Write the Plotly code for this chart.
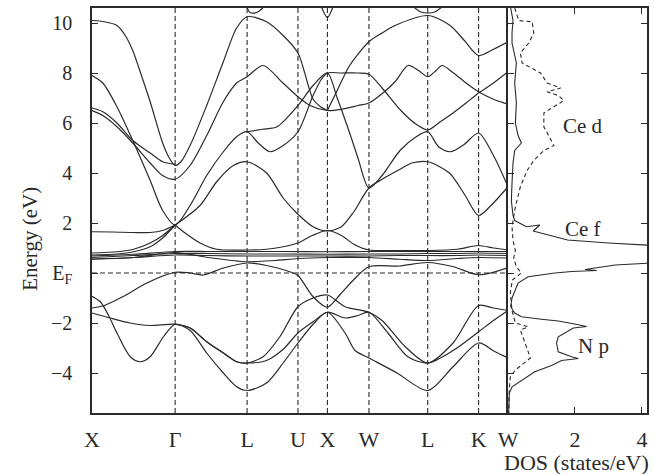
import plotly.graph_objects as go

# ---- Brillouin-zone path (units of 2*pi/a) ----
k_sym = [0.0, 1.0, 1.866, 2.478, 2.832, 3.332, 4.039, 4.651, 5.005]
k_names = ["X", "Γ", "L", "U", "X", "W", "L", "K", "W"]

# ---- energy bands (k, eV) ----
b1_k = [0, 0.15, 0.30, 0.40, 0.49, 0.60, 0.70, 0.85, 0.93, 1.0, 1.07, 1.18, 1.38, 1.58, 1.74, 1.866,
        2.1, 2.3, 2.478, 2.66, 2.75, 2.832]
b1_e = [10.1, 10.05, 9.9, 9.5, 8.9, 7.85, 6.85, 5.2, 4.6, 4.3, 4.45, 5.1, 6.7, 8.45, 9.8, 10.25,
        10.05, 9.5, 8.8, 6.95, 6.65, 6.5]

b13_k = [2.832, 2.95, 3.1, 3.332, 3.49, 3.646, 4.039, 4.308, 4.48, 4.651, 4.83, 5.005]
b13_e = [6.5, 7.3, 8.3, 9.25, 9.6, 9.9, 10.3, 9.9, 9.3, 8.7, 8.95, 9.25]

b2_k = [0, 0.13, 0.30, 0.49, 0.70, 0.85, 1.0, 1.18, 1.38, 1.58, 1.74, 1.866, 2.0, 2.14, 2.3, 2.478,
        2.66, 2.76, 2.832, 3.0, 3.2, 3.332, 3.49, 3.73, 3.9, 4.039, 4.19, 4.344, 4.5, 4.651, 4.83, 5.005]
b2_e = [7.9, 7.6, 6.65, 5.3, 3.7, 2.5, 1.92, 2.7, 3.9, 4.85, 5.45, 5.65, 5.2, 4.85, 5.1, 5.65,
        7.1, 7.75, 8.0, 8.0, 8.0, 7.95, 7.4, 6.45, 5.95, 5.72, 6.05, 6.4, 6.8, 7.2, 7.6, 8.05]

b3_k = [0, 0.13, 0.30, 0.49, 0.70, 0.85, 1.0]
b3_e = [6.6, 6.45, 6.0, 5.3, 4.8, 4.45, 4.35]

b4_k = [0, 0.13, 0.30, 0.49, 0.70, 0.85, 1.0, 1.18, 1.38, 1.58, 1.74, 1.866, 2.058, 2.298, 2.478,
        2.623, 2.832, 3.0, 3.2, 3.332, 3.5, 3.646, 3.803, 3.93, 4.039, 4.14, 4.212, 4.35, 4.5,
        4.651, 4.83, 5.005]
b4_e = [6.5, 6.3, 5.85, 5.2, 4.4, 3.9, 3.75, 4.3, 5.5, 6.85, 7.6, 7.85, 8.3, 7.6, 7.05,
        6.7, 6.5, 6.55, 6.7, 6.8, 7.2, 7.65, 8.3, 8.1, 7.85, 8.1, 8.3, 8.0, 7.6,
        7.25, 6.95, 6.75]

b7_k = [1.866, 2.05, 2.226, 2.478, 2.66, 2.832, 2.95, 3.1, 3.2, 3.332, 3.49, 3.706, 3.9, 4.039,
        4.17, 4.31, 4.48, 4.651, 4.83, 5.005]
b7_e = [5.65, 5.75, 5.85, 6.7, 7.5, 8.0, 7.0, 5.6, 4.6, 3.4, 3.9, 4.9, 5.45, 5.65,
        5.05, 4.85, 5.15, 5.6, 4.7, 3.45]

b8_k = [1.0, 1.3, 1.50, 1.70, 1.866, 2.1, 2.3, 2.478, 2.66, 2.832, 3.0, 3.15, 3.332, 3.49, 3.706,
        3.85, 4.039, 4.30, 4.49, 4.651, 4.80, 5.005]
b8_e = [1.92, 2.7, 3.65, 4.3, 4.45, 4.0, 3.0, 2.35, 1.85, 1.68, 1.85, 2.45, 3.4, 3.75, 4.15,
        4.4, 4.45, 4.0, 3.1, 2.3, 2.7, 3.45]

arc1_k = [1.866, 1.90, 1.98, 2.06]
arc1_e = [10.62, 10.42, 10.42, 10.62]
arc2_k = [2.76, 2.832, 2.90]
arc2_e = [10.65, 10.22, 10.65]
arc3_k = [3.85, 3.95, 4.039, 4.13, 4.23]
arc3_e = [10.7, 10.45, 10.4, 10.45, 10.7]

# Ce 4f manifold and hybridised bands
fa_k = [0, 0.25, 0.5, 0.7, 0.85, 1.0]
fa_e = [1.65, 1.64, 1.62, 1.62, 1.7, 1.92]
fb_k = [0, 0.3, 0.5, 0.7, 0.85, 1.0]
fb_e = [0.8, 0.85, 0.95, 1.2, 1.5, 1.92]
fc_k = [0, 0.3, 0.5, 0.7, 0.85, 1.0]
fc_e = [0.72, 0.76, 0.85, 1.05, 1.4, 1.92]
fd_k = [1.0, 1.12, 1.3, 1.5, 1.866, 2.1, 2.3, 2.478, 2.65, 2.832, 3.0, 3.15, 3.332, 3.7, 4.039,
        4.4, 4.651, 4.83, 5.005]
fd_e = [1.92, 1.6, 1.2, 0.95, 0.92, 0.95, 1.05, 1.2, 1.5, 1.7, 1.5, 1.15, 0.92, 0.9, 0.9,
        0.95, 1.1, 1.0, 0.92]
f_k = [0, 0.5, 1.0, 1.4, 1.866, 2.3, 2.832, 3.332, 3.7, 4.039, 4.4, 4.651, 5.005]
f1_e = [0.68, 0.75, 0.86, 0.86, 0.86, 0.86, 0.85, 0.86, 0.86, 0.86, 0.86, 0.86, 0.86]
f2_e = [0.62, 0.7, 0.78, 0.78, 0.76, 0.76, 0.75, 0.76, 0.76, 0.78, 0.78, 0.8, 0.78]
f3_e = [0.56, 0.62, 0.72, 0.7, 0.68, 0.68, 0.68, 0.68, 0.7, 0.7, 0.7, 0.72, 0.7]
f4_k = [0, 0.5, 1.0, 1.4, 1.866, 2.2, 2.478, 2.832, 3.332, 3.7, 4.039, 4.4, 4.651, 5.005]
f4_e = [0.55, 0.62, 0.82, 0.62, 0.45, 0.5, 0.58, 0.62, 0.62, 0.55, 0.5, 0.58, 0.62, 0.6]

d1_k = [0, 0.15, 0.37, 0.66, 1.0, 1.18, 1.34, 1.58, 1.866, 2.10, 2.38, 2.478, 2.66, 2.832, 2.98,
        3.14, 3.332, 3.70, 4.039, 4.35, 4.651, 5.005]
d1_e = [-1.4, -1.3, -0.95, -0.4, 0.03, 0.0, -0.08, 0.2, 0.4, 0.3, 0.05, -0.1, -0.95, -1.37, -0.88,
        -0.3, 0.25, 0.28, 0.42, 0.25, -0.07, 0.22]

# N 2p bands
p1_k = [0, 0.1, 0.2, 0.3, 0.46, 0.58, 0.70, 0.86, 1.0, 1.18, 1.38, 1.58, 1.74, 1.866, 2.1, 2.3,
        2.478, 2.66, 2.832, 3.045, 3.165, 3.332, 3.67, 4.039, 4.344, 4.651, 4.85, 5.005]
p1_e = [-0.93, -1.15, -1.7, -2.4, -3.35, -3.55, -3.35, -2.55, -2.05, -2.3, -3.2, -4.0, -4.55, -4.7,
        -4.4, -3.6, -2.8, -2.05, -1.57, -2.4, -3.1, -3.4, -4.0, -4.7, -3.75, -2.8, -3.15, -3.4]
p2_k = [0, 0.217, 0.457, 0.698, 1.0, 1.18, 1.38, 1.58, 1.74, 1.866, 2.058, 2.26, 2.478, 2.66,
        2.832, 3.045, 3.332, 3.49, 3.77, 4.039, 4.344, 4.651, 4.83, 5.005]
p2_e = [-1.6, -1.8, -2.0, -2.1, -2.05, -2.2, -2.75, -3.2, -3.55, -3.6, -3.35, -2.55, -1.35, -1.0,
        -0.88, -1.35, -1.57, -1.9, -2.95, -3.6, -2.8, -1.3, -1.4, -1.5]
p3_k = [1.0, 1.18, 1.38, 1.58, 1.74, 1.866, 2.1, 2.3, 2.478, 2.66, 2.832, 3.045, 3.2, 3.332,
        3.56, 3.80, 4.039, 4.344, 4.651, 4.83, 5.005]
p3_e = [-2.05, -2.2, -2.75, -3.2, -3.55, -3.6, -3.5, -3.05, -2.4, -1.95, -1.57, -1.8, -1.7, -1.57,
        -2.4, -3.35, -3.6, -3.1, -2.35, -1.9, -1.5]

bands = [(b1_k, b1_e), (b13_k, b13_e), (b2_k, b2_e), (b3_k, b3_e), (b4_k, b4_e), (b7_k, b7_e),
         (b8_k, b8_e), (arc1_k, arc1_e), (arc2_k, arc2_e), (arc3_k, arc3_e),
         (fa_k, fa_e), (fb_k, fb_e), (fc_k, fc_e), (fd_k, fd_e), (f_k, f1_e), (f_k, f2_e),
         (f_k, f3_e), (f4_k, f4_e), (d1_k, d1_e), (p1_k, p1_e), (p2_k, p2_e), (p3_k, p3_e)]

# ---- partial densities of states (states/eV) ----
dos_f_e = [10.6, 10.1, 9.6, 9.2, 8.4, 7.6, 6.8, 6.0, 5.5, 5.2, 4.9, 4.4, 3.6, 2.9, 2.3, 2.1, 1.85,
           1.92, 1.68, 1.52, 1.32, 1.2, 1.12, 1.05, 0.7, 0.4, 0.32, 0.22, 0.14, 0.1, 0.06, 0.0,
           -0.07, -0.15, -0.4, -0.7, -1.0]
dos_f_v = [0.08, 0.15, 0.12, 0.12, 0.25, 0.2, 0.25, 0.22, 0.3, 0.4, 0.2, 0.15, 0.12, 0.1, 0.15, 0.2,
           0.55, 0.95, 0.75, 1.18, 1.78, 3.0, 4.2, 5.0, 6.0, 4.3, 3.2, 2.6, 2.3, 2.65, 1.9, 1.4,
           1.05, 0.6, 0.3, 0.2, 0.12]
dos_p_e = [-1.0, -1.35, -1.6, -1.75, -1.85, -1.92, -2.03, -2.14, -2.2, -2.55, -2.8, -3.15, -3.35,
           -3.42, -3.5, -3.7, -3.95, -4.3, -4.55, -4.8, -5.6]
dos_p_v = [0.12, 0.08, 0.2, 0.4, 1.0, 1.5, 1.95, 2.35, 1.95, 1.5, 1.45, 1.5, 1.9, 2.1, 1.6, 1.3,
           0.8, 0.4, 0.12, 0.04, 0.02]
dos_d_e = [10.6, 10.5, 10.1, 10.05, 9.6, 9.2, 8.8, 8.4, 8.0, 7.6, 7.4, 7.25, 7.1, 6.9, 6.65, 6.4,
           5.85, 5.1, 4.9, 4.5, 4.1, 3.45, 2.65, 1.85, 1.3, 0.9, 0.6, 0.25, 0.0, -0.28, -0.8,
           -1.5, -2.0, -2.15, -2.28, -2.8, -3.4, -3.88, -4.15, -4.6, -5.6]
dos_d_v = [0.2, 0.22, 0.32, 0.72, 0.77, 0.62, 0.37, 0.42, 0.97, 1.17, 1.57, 1.17, 1.5, 1.67, 1.37,
           1.07, 1.07, 1.37, 1.07, 0.77, 0.57, 0.37, 0.22, 0.12, 0.15, 0.22, 0.17, 0.25, 0.4,
           0.13, 0.07, 0.12, 0.22, 0.6, 0.37, 0.5, 0.67, 0.22, 0.07, 0.04, 0.02]

dos_labels = [("Ce d", 2.23, 5.9), ("Ce f", 2.23, 1.75), ("N p", 2.55, -2.9)]

y_ticks = [-4, -2, 0, 2, 4, 6, 8, 10]
y_ticktext = ["−4", "−2", "E<sub>F</sub>", "2", "4", "6", "8", "10"]
dos_ticks = [2, 4]

INK = "#2a2a2a"
FONT = "Liberation Serif"
split = 416 / 555

fig = go.Figure()
for kk, ee in bands:
    fig.add_trace(go.Scatter(x=kk, y=ee, mode="lines", xaxis="x", yaxis="y",
                             line=dict(color=INK, width=1.2, shape="spline", smoothing=0.8),
                             hoverinfo="skip"))

fig.add_trace(go.Scatter(x=dos_f_v, y=dos_f_e, mode="lines", xaxis="x2", yaxis="y2",
                         line=dict(color=INK, width=1.1), name="Ce f"))
fig.add_trace(go.Scatter(x=dos_p_v, y=dos_p_e, mode="lines", xaxis="x2", yaxis="y2",
                         line=dict(color=INK, width=1.1), name="N p"))
fig.add_trace(go.Scatter(x=dos_d_v, y=dos_d_e, mode="lines", xaxis="x2", yaxis="y2",
                         line=dict(color=INK, width=1.1, dash="4px,3px"), name="Ce d"))

shapes = []
for kv in k_sym[1:-1]:
    shapes.append(dict(type="line", xref="x", yref="paper", x0=kv, x1=kv, y0=0, y1=1,
                       line=dict(color=INK, width=1.1, dash="5px,3px")))
shapes.append(dict(type="line", xref="x", yref="y", x0=k_sym[0], x1=k_sym[-1], y0=0, y1=0,
                   line=dict(color=INK, width=1.1, dash="5px,3px")))

annotations = [dict(text=t, x=xv, y=yv, xref="x2", yref="y2", showarrow=False,
                    font=dict(family=FONT, size=21, color=INK)) for t, xv, yv in dos_labels]
annotations.append(dict(text="Energy (eV)", x=-0.137, y=0.43, xref="paper", yref="paper",
                        textangle=-90, showarrow=False, font=dict(family=FONT, size=21, color=INK)))
annotations.append(dict(text="DOS (states/eV)", x=0.873, y=-0.123, xref="paper", yref="paper",
                        xanchor="center", yanchor="middle", showarrow=False,
                        font=dict(family=FONT, size=22, color=INK)))

axis_common = dict(showline=True, linecolor=INK, showgrid=False, zeroline=False, automargin=False)
fig.update_layout(
    width=654, height=474, margin=dict(l=92, r=7, t=8, b=61, autoexpand=False),
    paper_bgcolor="white", plot_bgcolor="white", showlegend=False,
    font=dict(family=FONT, size=20, color=INK),
    xaxis=dict(domain=[0, split], range=[k_sym[0], k_sym[-1]], tickvals=k_sym, ticktext=k_names,
               ticks="", mirror=True, linewidth=1.5, tickfont=dict(size=22), ticklabelstandoff=6,
               anchor="y", **axis_common),
    yaxis=dict(range=[-5.6, 10.6], tickvals=y_ticks, ticktext=y_ticktext, ticks="inside",
               ticklen=6, tickcolor=INK, mirror=False, linewidth=1.5, tickfont=dict(size=20),
               ticklabelstandoff=14, anchor="x", **axis_common),
    xaxis2=dict(domain=[split, 1], range=[0, 4.15], tickvals=dos_ticks, ticks="inside", ticklen=6,
                tickcolor=INK, mirror="ticks", linewidth=1.5, tickfont=dict(size=22),
                ticklabelstandoff=6, anchor="y2", **axis_common),
    yaxis2=dict(range=[-5.6, 10.6], tickvals=y_ticks, ticks="inside", ticklen=6, tickcolor=INK,
                mirror="ticks", linewidth=1.8, showticklabels=False, anchor="x2", matches="y",
                **axis_common),
    shapes=shapes, annotations=annotations,
)

fig.write_html("out.html")
